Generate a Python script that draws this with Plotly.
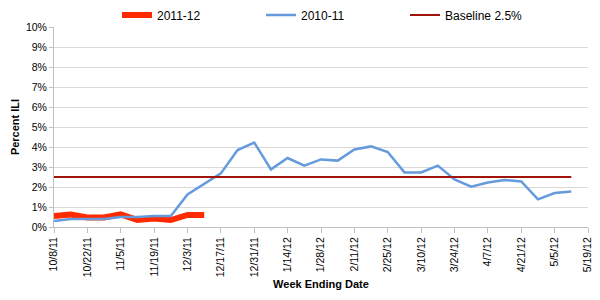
import plotly.graph_objects as go

weeks = ["10/8/11", "10/15/11", "10/22/11", "10/29/11", "11/5/11", "11/12/11",
         "11/19/11", "11/26/11", "12/3/11", "12/10/11", "12/17/11", "12/24/11",
         "12/31/11", "1/7/12", "1/14/12", "1/21/12", "1/28/12", "2/4/12",
         "2/11/12", "2/18/12", "2/25/12", "3/3/12", "3/10/12", "3/17/12",
         "3/24/12", "3/31/12", "4/7/12", "4/14/12", "4/21/12", "4/28/12",
         "5/5/12", "5/12/12", "5/19/12"]

ili_2011_12 = [0.55, 0.62, 0.48, 0.48, 0.63, 0.35, 0.42, 0.35, 0.60, 0.60]

ili_2010_11 = [0.30, 0.40, 0.40, 0.40, 0.50, 0.50, 0.55, 0.55, 1.63, 2.15,
               2.68, 3.85, 4.22, 2.88, 3.45, 3.07, 3.38, 3.32, 3.88, 4.03,
               3.75, 2.73, 2.73, 3.07, 2.38, 2.02, 2.22, 2.35, 2.28, 1.38,
               1.70, 1.77]

baseline_value = 2.5
baseline = [baseline_value] * 32

tick_labels = weeks[::2]

font_family = "Liberation Sans, Arial, sans-serif"

fig = go.Figure()
fig.add_trace(go.Scatter(
    x=weeks[:len(ili_2011_12)], y=[v / 100 for v in ili_2011_12],
    mode="lines", name="2011-12",
    line=dict(color="#FF2A00", width=6)))
fig.add_trace(go.Scatter(
    x=weeks[:len(ili_2010_11)], y=[v / 100 for v in ili_2010_11],
    mode="lines", name="2010-11",
    line=dict(color="#659BDD", width=2.5)))
fig.add_trace(go.Scatter(
    x=weeks[:len(baseline)], y=[v / 100 for v in baseline],
    mode="lines", name="Baseline 2.5%",
    line=dict(color="#A0140A", width=2)))

fig.update_layout(
    width=600, height=300,
    margin=dict(l=54, r=12, t=27, b=73, autoexpand=False),
    paper_bgcolor="white", plot_bgcolor="white",
    font=dict(family=font_family, size=10.5, color="#000000"),
    showlegend=True,
    legend=dict(orientation="h", x=0.118, xanchor="left", y=1.06,
                yanchor="middle", font=dict(size=12),
                entrywidth=99, entrywidthmode="pixels",
                itemwidth=30, bgcolor="rgba(0,0,0,0)"),
    xaxis=dict(
        type="category", categoryorder="array", categoryarray=weeks,
        range=[0, len(weeks) - 1], automargin=False,
        tickmode="array", tickvals=tick_labels, ticktext=tick_labels,
        tickangle=-90, ticks="outside", ticklen=5, tickcolor="#BFBFBF",
        showline=True, linecolor="#BFBFBF", linewidth=1,
        showgrid=False, zeroline=False,
        tickfont=dict(size=10.5),
        title=dict(text="<b>Week Ending Date</b>", font=dict(size=11),
                   standoff=4),
    ),
    yaxis=dict(
        range=[0, 0.10], dtick=0.01, tickformat=".0%", automargin=False,
        ticks="outside", ticklen=4, tickcolor="#BFBFBF",
        showline=True, linecolor="#BFBFBF", linewidth=1,
        showgrid=True, gridcolor="#D9D9D9", gridwidth=1,
        zeroline=False, tickfont=dict(size=10.5),
        title=dict(text="<b>Percent ILI</b>", font=dict(size=11),
                   standoff=4),
    ),
)

fig.write_html("out.html")
